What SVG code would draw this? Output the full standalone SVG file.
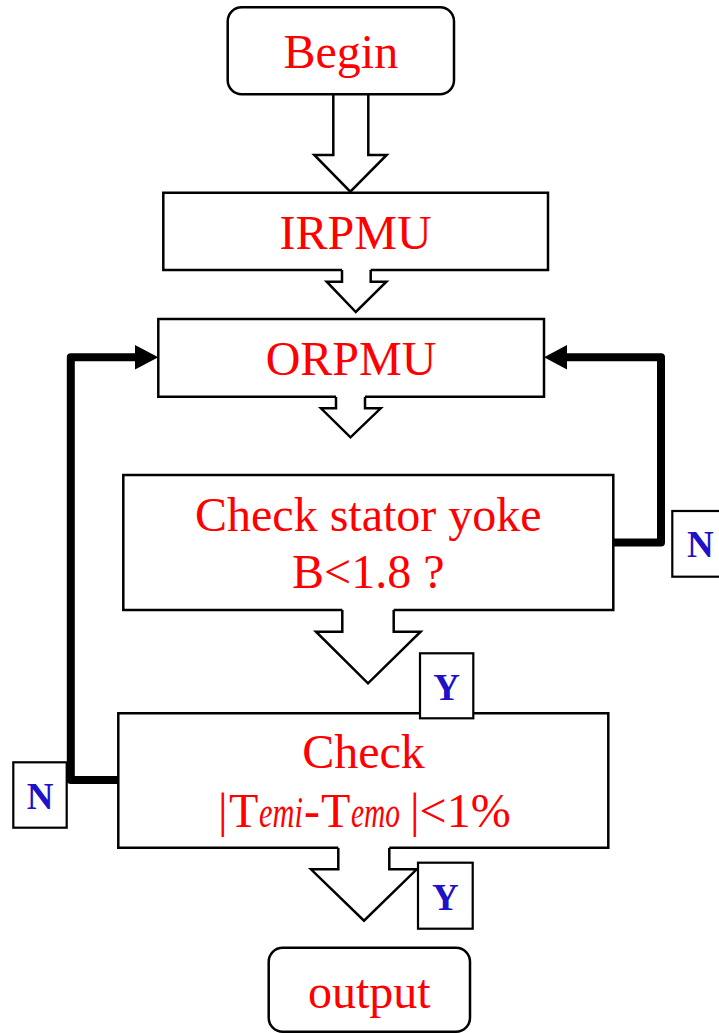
<svg xmlns="http://www.w3.org/2000/svg" width="719" height="1033" viewBox="0 0 719 1033">
<style>
.box{fill:#fff;stroke:#000;stroke-width:2.5}
.t{font-family:"Liberation Serif","Times New Roman",serif;font-size:48px;fill:#ff0000;text-anchor:middle}
.tr{font-family:"Liberation Serif","Times New Roman",serif;font-size:48px;fill:#ff0000}
.ti{font-family:"Liberation Serif","Times New Roman",serif;font-style:italic;font-size:44px;fill:#ff0000}
.afill{fill:#fff;stroke:none}
.aline{fill:none;stroke:#000;stroke-width:2.5;stroke-linejoin:miter}
.fb{fill:none;stroke:#000;stroke-width:8;stroke-linejoin:round}
.lbl{fill:#fff;stroke:#000;stroke-width:2.2}
.lt{font-family:"Liberation Serif","Times New Roman",serif;font-weight:bold;font-size:37px;fill:#2010c8;text-anchor:middle}
</style>

<g id="connectors">
  <polygon class="afill" points="333.3,94 368.3,94 368.3,155 386.7,155 350.3,191.7 314.3,155 333.3,155"/>
  <polyline class="aline" points="333.3,94 333.3,155 314.3,155 350.3,191.7 386.7,155 368.3,155 368.3,94"/>
  <polygon class="afill" points="342,268 370.7,268 370.7,281.7 386.4,281.7 355.8,312 326.7,281.7 342,281.7"/>
  <polyline class="aline" points="342,270 342,281.7 326.7,281.7 355.8,312 386.4,281.7 370.7,281.7 370.7,270"/>
  <polygon class="afill" points="336,395 365,395 365,408.3 380.7,408.3 350.5,437.3 321,408.3 336,408.3"/>
  <polyline class="aline" points="336,396.7 336,408.3 321,408.3 350.5,437.3 380.7,408.3 365,408.3 365,396.7"/>
  <polygon class="afill" points="342.3,608 393.7,608 393.7,631.7 420.6,631.7 368,683.3 316,631.7 342.3,631.7"/>
  <polyline class="aline" points="342.3,610 342.3,631.7 316,631.7 368,683.3 420.6,631.7 393.7,631.7 393.7,610"/>
  <polygon class="afill" points="338.3,846 389.3,846 389.3,869.3 416.7,869.3 364,920.7 311,869.3 338.3,869.3"/>
  <polyline class="aline" points="338.3,847.7 338.3,869.3 311,869.3 364,920.7 416.7,869.3 389.3,869.3 389.3,847.7"/>
  <polyline class="fb" points="613.3,542.5 661,542.5 661,357.3 562,357.3"/>
  <polygon points="544,357.3 567,345 567,369.6" fill="#000"/>
  <polyline class="fb" points="118.3,780 70.8,780 70.8,357.3 140,357.3"/>
  <polygon points="158.3,357.3 135,345 135,369.6" fill="#000"/>
</g>

<g id="begin">
  <rect class="box" x="227.7" y="7.3" width="226.3" height="87" rx="14" ry="14"/>
  <text class="t" x="340.8" y="68.3">Begin</text>
</g>

<g id="irpmu">
  <path class="box" d="M342,270 H163.3 V192.7 H548 V270 H370.7"/>
  <text class="t" x="355.6" y="249">IRPMU</text>
</g>

<g id="orpmu">
  <path class="box" d="M336,396.7 H158.3 V319 H544 V396.7 H365"/>
  <text class="t" x="351" y="375">ORPMU</text>
</g>

<g id="check-stator">
  <path class="box" d="M342.3,610 H123.3 V475 H613.3 V610 H393.7"/>
  <text class="t" x="368.3" y="531">Check stator yoke</text>
  <text class="t" x="368.3" y="588.3">B&lt;1.8 ?</text>
</g>

<g id="check-torque">
  <path class="box" d="M338.3,847.7 H118.3 V713.3 H608.3 V847.7 H389.3"/>
  <text class="t" x="363.5" y="768.3">Check</text>
  <text class="tr" x="218" y="826.7"><tspan x="218">|</tspan><tspan x="229">T</tspan></text>
  <text class="ti" transform="translate(259,826.7) scale(0.69,1)" x="0" y="0">emi</text>
  <text class="tr" x="304" y="826.7"><tspan x="304">-</tspan><tspan x="321">T</tspan></text>
  <text class="ti" transform="translate(351,826.7) scale(0.67,1)" x="0" y="0">emo</text>
  <text class="tr" x="410" y="826.7">|&lt;1%</text>
</g>

<g id="output">
  <rect class="box" x="268.7" y="947.7" width="201.3" height="84" rx="14" ry="14"/>
  <text class="t" x="369.3" y="1007.7">output</text>
</g>

<g id="label-y1">
  <rect class="lbl" x="420" y="653.3" width="53.3" height="65"/>
  <text class="lt" x="446.7" y="700">Y</text>
</g>
<g id="label-n-right">
  <rect class="lbl" x="672.3" y="511" width="54" height="65.7"/>
  <text class="lt" x="700.3" y="556.7">N</text>
</g>
<g id="label-n-left">
  <rect class="lbl" x="13.3" y="762.3" width="53.4" height="65.4"/>
  <text class="lt" x="40" y="809">N</text>
</g>
<g id="label-y2">
  <rect class="lbl" x="418" y="862.7" width="54.7" height="66"/>
  <text class="lt" x="445.3" y="910">Y</text>
</g>
</svg>
